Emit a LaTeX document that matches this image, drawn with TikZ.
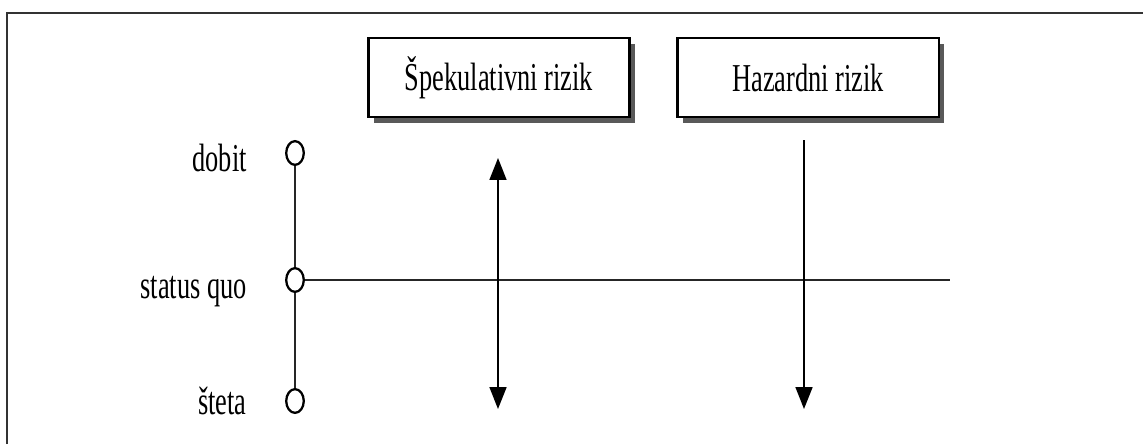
\documentclass[tikz,border=0pt]{standalone}
\usepackage{fontspec}
\setmainfont{Liberation Serif}
\usepackage{graphicx}
\usetikzlibrary{shapes.geometric, arrows.meta, positioning, shadows}
\newcommand{\tallText}[1]{\scalebox{1}[1.5]{#1}}
\tikzset{
    risk_box/.style={rectangle, draw, line width=1.2pt, fill=white, minimum width=148.6pt, minimum height=44.8pt, font=\fontsize{15}{18}\selectfont, drop shadow={shadow xshift=3.2pt, shadow yshift=-3.4pt, fill=black!65, opacity=1}},
    level_dot/.style={ellipse, draw, line width=1.3pt, fill=white, minimum width=10pt, minimum height=13.5pt, inner sep=0pt},
    level_label/.style={anchor=east, inner sep=0pt, font=\fontsize{15}{18}\selectfont},
    axis/.style={line width=1.2pt, black!85},
    arrow/.style={-{Triangle[width=9.6pt,length=12.5pt]}, line width=1.2pt},
    double_arrow/.style={{Triangle[width=9.6pt,length=12.5pt]}-{Triangle[width=9.6pt,length=12.5pt]}, line width=1.2pt}
}
\begin{document}
\begin{tikzpicture}[x=0.02cm, y=-0.02cm]
    \useasboundingbox (0,0) rectangle (1143,444);
    % frame
    \draw[line width=1.2pt, black!80] (7,444) -- (7,13) -- (1143,13);

    \node (spec) [risk_box] at (499,77.5) {\tallText{Špekulativni rizik}};
    \node (hazard) [risk_box, right=26.1pt of spec] {\tallText{Hazardni rizik}};

    \node (dobit) [level_dot] at (295,153) {};
    \node (quo) [level_dot] at (295,280) {};
    \node (steta) [level_dot] at (295,401) {};
    \node (dobit_lbl) [level_label] at (247,158) {\tallText{dobit}};
    \node (quo_lbl) [level_label] at (247,292) {\tallText{status quo}};
    \node (steta_lbl) [level_label] at (247,401) {\tallText{šteta}};

    \coordinate (quo_end) at (950,280);
    \coordinate (spec_top) at (498,158);
    \coordinate (spec_bot) at (498,409);
    \coordinate (hazard_top) at (804,140);
    \coordinate (hazard_bot) at (804,409);

    \draw [axis] (dobit) -- (quo);
    \draw [axis] (quo) -- (steta);
    \draw [axis] (quo) -- (quo_end);
    \draw [double_arrow] (spec_top) -- (spec_bot);
    \draw [arrow] (hazard_top) -- (hazard_bot);
\end{tikzpicture}
\end{document}
